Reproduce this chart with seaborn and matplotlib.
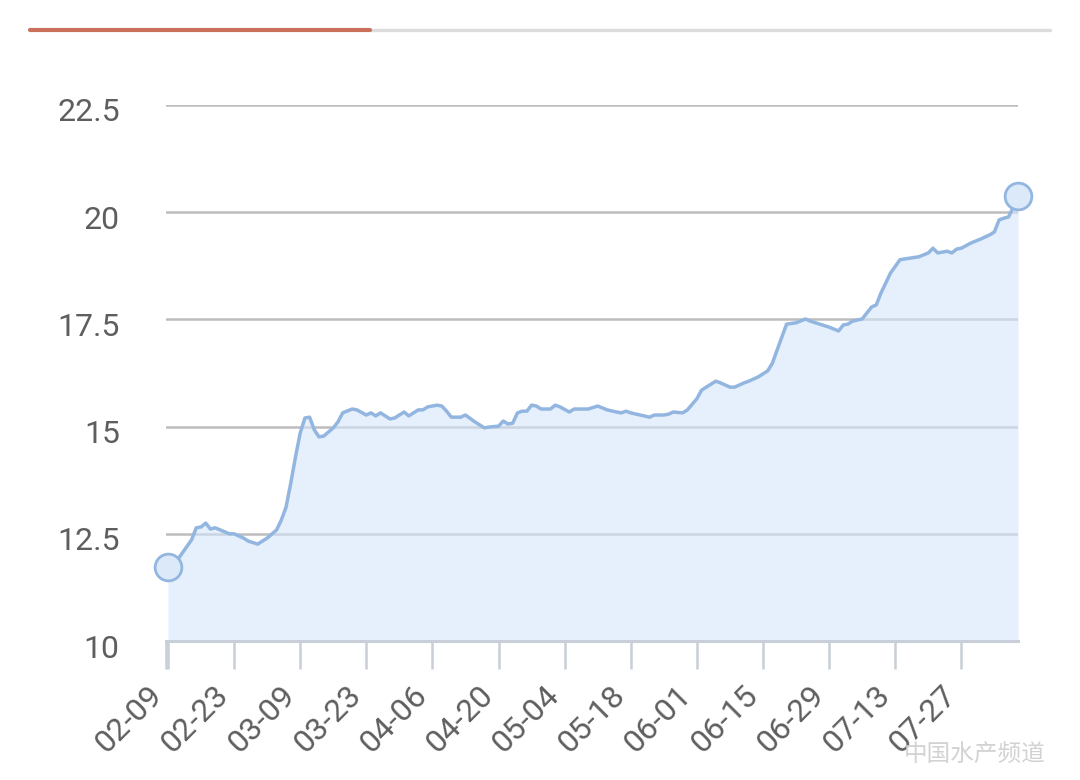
import pandas as pd
import matplotlib.pyplot as plt
import matplotlib.transforms as mtransforms
from matplotlib.lines import Line2D
import seaborn as sns

# daily price series (days after 02-09)
start_date = "2018-02-09"
day_offsets = [0, 2, 5, 6, 7, 8, 9, 10, 13, 14, 16, 17, 19, 21, 23, 24, 25, 26, 27, 28,
               29, 30, 31, 32, 33, 35, 36, 37, 39, 40, 42, 43, 44, 45, 47, 48, 50, 51, 53, 54,
               55, 57, 58, 59, 60, 62, 63, 65, 67, 68, 70, 71, 72, 73, 74, 75, 76, 77, 78, 79,
               81, 82, 83, 85, 86, 89, 91, 93, 95, 96, 97, 98, 100, 102, 103, 105, 106, 107, 109, 110,
               112, 113, 116, 117, 119, 120, 122, 123, 125, 127, 128, 129, 130, 131, 133, 135, 136, 138, 140, 142,
               143, 144, 145, 147, 149, 150, 151, 153, 155, 156, 159, 161, 162, 163, 165, 166, 167, 168, 170, 172,
               174, 175, 176, 177, 178, 179, 180]
prices = [11.73, 11.89, 12.36, 12.64, 12.66, 12.75, 12.61, 12.64, 12.50, 12.50, 12.40, 12.33, 12.26, 12.40, 12.59, 12.82, 13.12, 13.68, 14.29, 14.85,
          15.20, 15.22, 14.92, 14.76, 14.78, 14.97, 15.11, 15.32, 15.41, 15.39, 15.27, 15.32, 15.25, 15.32, 15.18, 15.20, 15.34, 15.25, 15.39, 15.39,
          15.46, 15.50, 15.48, 15.36, 15.22, 15.22, 15.27, 15.11, 14.97, 14.99, 15.01, 15.13, 15.06, 15.08, 15.32, 15.36, 15.36, 15.50, 15.48, 15.41,
          15.41, 15.50, 15.46, 15.34, 15.41, 15.41, 15.48, 15.39, 15.34, 15.32, 15.36, 15.32, 15.27, 15.22, 15.27, 15.27, 15.29, 15.34, 15.32, 15.39,
          15.65, 15.85, 16.06, 16.02, 15.92, 15.92, 16.02, 16.06, 16.16, 16.30, 16.48, 16.79, 17.09, 17.39, 17.42, 17.51, 17.46, 17.39, 17.32, 17.23,
          17.37, 17.39, 17.46, 17.51, 17.79, 17.84, 18.12, 18.58, 18.89, 18.91, 18.96, 19.05, 19.16, 19.05, 19.09, 19.05, 19.14, 19.16, 19.28, 19.37,
          19.47, 19.54, 19.82, 19.86, 19.89, 20.12, 20.38]
tick_offsets = [0, 14, 28, 42, 56, 70, 84, 98, 112, 126, 140, 154, 168]
y_ticks = [10, 12.5, 15, 17.5, 20, 22.5]
y_labels = ["10", "12.5", "15", "17.5", "20", "22.5"]

assert len(day_offsets) == len(prices)

df = pd.DataFrame({"date": pd.Timestamp(start_date) + pd.to_timedelta(day_offsets, unit="D"),
                   "price": prices})
tick_dates = pd.Timestamp(start_date) + pd.to_timedelta(tick_offsets, unit="D")

# setup
sns.set_theme(style="white")
plt.rcParams["font.family"] = ["Roboto", "DejaVu Sans"]

line_color = "#92b6e0"
axis_color = "#c8cfd8"
text_color = "#5e5e5e"

fig = plt.figure(figsize=(10.8, 7.8), dpi=100)
ax = fig.add_axes([165.6 / 1080, 1 - 641 / 780, (1018 - 165.6) / 1080, (641 - 105) / 780])

# area + line
ax.fill_between(df["date"], df["price"], 10, color="#d4e6fa", alpha=0.6, lw=0, zorder=1)
sns.lineplot(data=df, x="date", y="price", color=line_color, lw=2.5, ax=ax, zorder=3)

# first / last point markers
ends = df.iloc[[0, -1]]
sns.scatterplot(data=ends, x="date", y="price", s=370, color="#dce9f8",
                edgecolor=line_color, linewidth=2.0, ax=ax, zorder=4, clip_on=False)

# axes
left_edge = df["date"].iloc[0] - pd.Timedelta(hours=12)
ax.set_ylim(10, 22.5)
ax.set_xlim(left_edge, df["date"].iloc[-1])
ax.set_yticks(y_ticks)
ax.set_yticklabels(y_labels)
ax.set_xticks(tick_dates)
ax.set_xticklabels([d.strftime("%m-%d") for d in tick_dates])
ax.set_xticks([left_edge], minor=True)
ax.set_xlabel("")
ax.set_ylabel("")

ax.set_axisbelow(True)
ax.yaxis.grid(True, color="#bdbdbd", lw=1.8)
ax.xaxis.grid(False)
for side in ["top", "right", "left"]:
    ax.spines[side].set_visible(False)
ax.spines["bottom"].set_color(axis_color)
ax.spines["bottom"].set_linewidth(2.2)
ax.spines["bottom"].set_zorder(5)

ax.tick_params(axis="y", left=False, length=0, pad=33, labelsize=23, labelcolor=text_color)
ax.tick_params(axis="x", which="both", bottom=True, length=20, width=1.8,
               color=axis_color, direction="out")
ax.tick_params(axis="x", which="major", pad=16, labelsize=23, labelcolor=text_color)

ydown = mtransforms.ScaledTranslation(0, -5 / 100, fig.dpi_scale_trans)
for lbl in ax.get_yticklabels():
    lbl.set_transform(lbl.get_transform() + ydown)

shift = mtransforms.ScaledTranslation(-10 / 100, 0, fig.dpi_scale_trans)
for lbl in ax.get_xticklabels():
    lbl.set_rotation(45)
    lbl.set_rotation_mode("anchor")
    lbl.set_ha("right")
    lbl.set_va("center")
    lbl.set_transform(lbl.get_transform() + shift)

# top tab bar
fig.add_artist(Line2D([370 / 1080, 1050 / 1080], [1 - 30 / 780] * 2, color="#dcdcdc", lw=2.4))
fig.add_artist(Line2D([30 / 1080, 370 / 1080], [1 - 30 / 780] * 2, color="#c8705a", lw=3))

# watermark
fig.text(1045 / 1080, 1 - 767 / 780, "中国水产频道", ha="right", va="bottom", fontsize=17,
         color="#d2d2d2", family=["Noto Sans CJK SC", "DejaVu Sans"])

plt.savefig("out.png", dpi=100)
